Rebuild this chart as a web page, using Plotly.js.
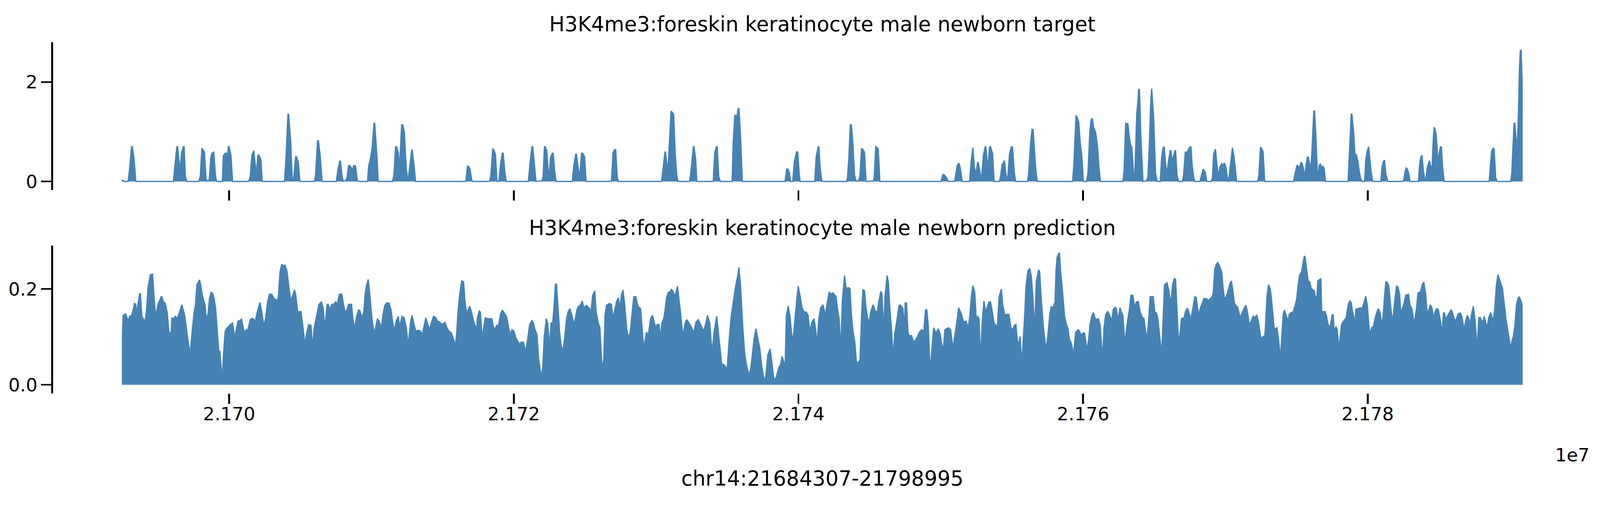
<!DOCTYPE html>
<html><head><meta charset="utf-8">
<script src="https://cdn.plot.ly/plotly-3.0.1.min.js"></script>
<style>html,body{margin:0;padding:0;background:#fff;overflow:hidden;} #chart{position:absolute;left:0;top:0;}</style>
</head><body><div id="chart"></div>
<script>
// ---------------- data ----------------
const regionLabel = 'chr14:21684307-21798995';
const targetTitle = 'H3K4me3:foreskin keratinocyte male newborn target';
const predTitle = 'H3K4me3:foreskin keratinocyte male newborn prediction';
const offsetLabel = '1e7';
const xRangeBp = [21692460, 21790890];
const xTickBp = [21700000, 21720000, 21740000, 21760000, 21780000];
const xTickText = ['2.170', '2.172', '2.174', '2.176', '2.178'];
const targetYTicks = [0, 2];
const targetYTickText = ['0', '2'];
const targetYRange = [-0.172, 2.80];
const predYTicks = [0, 0.2];
const predYTickText = ['0.0', '0.2'];
const predYRange = [-0.0178, 0.2911];

// [position (kb), signal]
const targetTrack = [
[21692.46,0.03],[21692.63,0],[21692.90,0],[21693.00,0.24],[21693.14,0.70],[21693.20,0.70],[21693.33,0.42],[21693.44,0],
[21696.08,0],[21696.19,0.33],[21696.32,0.70],[21696.38,0.70],[21696.48,0.38],[21696.55,0.20],[21696.65,0.57],[21696.78,0.70],[21696.84,0.70],[21696.92,0.10],[21697.03,0],
[21697.86,0],[21697.97,0.10],[21698.08,0.66],[21698.14,0.65],[21698.26,0.59],[21698.38,0.04],[21698.51,0.01],[21698.60,0.04],[21698.71,0.48],[21698.79,0.57],[21698.92,0.59],[21699.05,0.08],[21699.13,0],
[21699.52,0],[21699.59,0.52],[21699.72,0.57],[21699.81,0.57],[21699.87,0.43],[21699.94,0.70],[21700.00,0.70],[21700.13,0.52],[21700.24,0],
[21701.37,0],[21701.48,0.10],[21701.59,0.52],[21701.73,0.62],[21701.84,0.33],[21701.91,0.14],[21702.02,0.53],[21702.10,0.53],[21702.24,0.43],[21702.32,0],
[21703.89,0],[21704.00,0.53],[21704.13,1.35],[21704.18,1.35],[21704.32,0.83],[21704.43,0.06],[21704.48,0.02],[21704.54,0.10],[21704.67,0.50],[21704.73,0.50],[21704.86,0.38],[21704.97,0],
[21705.99,0],[21706.07,0.13],[21706.21,0.82],[21706.27,0.82],[21706.40,0.51],[21706.53,0],
[21707.53,0],[21707.64,0.24],[21707.77,0.41],[21707.82,0.41],[21707.94,0.10],[21708.02,0],
[21708.20,0.02],[21708.28,0.08],[21708.39,0.32],[21708.47,0.32],[21708.58,0.28],[21708.65,0.20],[21708.74,0.32],[21708.88,0.31],[21709.01,0.02],[21709.10,0],
[21709.72,0],[21709.80,0.31],[21709.93,0.47],[21710.04,0.67],[21710.18,1.17],[21710.23,1.17],[21710.33,0.74],[21710.42,0.33],[21710.47,0],
[21711.48,0],[21711.58,0.14],[21711.69,0.70],[21711.77,0.70],[21711.88,0.59],[21711.96,0.25],[21712.04,0.69],[21712.12,1.14],[21712.20,1.14],[21712.31,0.99],[21712.45,0.24],[21712.56,0.01],[21712.66,0.24],[21712.82,0.63],[21712.86,0.63],[21712.99,0.33],[21713.10,0],
[21716.63,0],[21716.74,0.31],[21716.81,0.31],[21716.92,0.25],[21717.06,0.01],[21717.11,0],
[21718.30,0],[21718.39,0.13],[21718.52,0.66],[21718.59,0.64],[21718.71,0.55],[21718.82,0],[21718.95,0],[21719.06,0.33],[21719.19,0.57],[21719.25,0.57],[21719.38,0.17],[21719.47,0],
[21721.02,0],[21721.16,0.42],[21721.27,0.70],[21721.33,0.70],[21721.46,0.29],[21721.56,0],[21721.97,0.01],[21722.06,0.10],[21722.15,0.70],[21722.21,0.70],[21722.32,0.62],[21722.46,0.01],[21722.57,0.48],[21722.71,0.57],[21722.77,0.56],[21722.89,0.15],[21722.98,0],
[21724.11,0],[21724.22,0.33],[21724.35,0.55],[21724.40,0.55],[21724.51,0.29],[21724.62,0.07],[21724.76,0.57],[21724.84,0.57],[21724.97,0.50],[21725.08,0],
[21726.81,0],[21726.86,0.01],[21726.97,0.58],[21727.08,0.64],[21727.16,0.64],[21727.27,0.08],[21727.35,0],
[21730.37,0],[21730.42,0.10],[21730.51,0.33],[21730.62,0.59],[21730.66,0.59],[21730.75,0.35],[21730.83,0.24],[21730.94,0.83],[21731.05,1.42],[21731.13,1.39],[21731.23,1.35],[21731.34,0.58],[21731.45,0.13],[21731.53,0],
[21732.35,0],[21732.42,0.14],[21732.53,0.44],[21732.62,0.70],[21732.66,0.70],[21732.78,0.44],[21732.86,0],
[21734.01,0],[21734.12,0.58],[21734.23,0.70],[21734.29,0.70],[21734.40,0.10],[21734.51,0],
[21735.34,0],[21735.41,0.78],[21735.53,1.33],[21735.61,1.33],[21735.67,1.26],[21735.74,1.44],[21735.82,1.48],[21735.93,0.92],[21736.06,0],
[21739.06,0],[21739.17,0.25],[21739.26,0.25],[21739.37,0.17],[21739.44,0],[21739.60,0],[21739.71,0.40],[21739.87,0.60],[21739.95,0.59],[21740.06,0.13],[21740.12,0],
[21741.14,0],[21741.25,0.51],[21741.39,0.70],[21741.44,0.69],[21741.51,0.33],[21741.56,0.19],[21741.65,0],
[21743.40,0],[21743.45,0.10],[21743.54,0.47],[21743.64,1.14],[21743.72,1.14],[21743.83,0.74],[21743.94,0.13],[21744.05,0.01],[21744.21,0.01],[21744.32,0.10],[21744.43,0.66],[21744.51,0.65],[21744.64,0.59],[21744.75,0],
[21745.26,0.01],[21745.32,0.08],[21745.43,0.70],[21745.51,0.69],[21745.61,0.65],[21745.72,0],
[21750.01,0],[21750.15,0.14],[21750.26,0.13],[21750.42,0.07],[21750.53,0],
[21750.96,0],[21751.01,0.06],[21751.15,0.32],[21751.28,0.37],[21751.39,0.24],[21751.50,0],
[21752.02,0],[21752.13,0.40],[21752.26,0.68],[21752.36,0.29],[21752.47,0.13],[21752.58,0.38],[21752.63,0.38],[21752.74,0.22],[21752.85,0.01],[21752.99,0.52],[21753.12,0.70],[21753.17,0.69],[21753.31,0.24],[21753.42,0.69],[21753.50,0.70],[21753.64,0.56],[21753.75,0],
[21754.11,0],[21754.20,0.10],[21754.31,0.34],[21754.47,0.42],[21754.58,0.14],[21754.69,0.01],[21754.83,0.56],[21754.96,0.70],[21755.04,0.69],[21755.17,0.17],[21755.26,0],
[21756.09,0],[21756.17,0.15],[21756.31,0.78],[21756.41,1.05],[21756.49,1.04],[21756.63,0.42],[21756.71,0.15],[21756.79,0],
[21759.26,0],[21759.35,0.33],[21759.42,0.87],[21759.50,1.32],[21759.56,1.31],[21759.69,1.20],[21759.80,0.78],[21759.91,0.53],[21760.02,0],
[21760.25,0],[21760.34,0.17],[21760.47,0.99],[21760.56,1.24],[21760.64,1.27],[21760.75,1.08],[21760.88,0.99],[21761.01,0.71],[21761.10,0.33],[21761.22,0],
[21762.80,0],[21762.88,0.24],[21762.99,1.17],[21763.15,1.16],[21763.26,0.87],[21763.34,0.73],[21763.42,0.70],[21763.55,0.15],[21763.63,0.10],[21763.77,1.37],[21763.85,1.60],[21763.90,1.85],[21763.96,1.85],[21764.07,0.83],[21764.21,0],
[21764.44,0.01],[21764.55,0.08],[21764.66,0.78],[21764.75,1.60],[21764.82,1.87],[21764.96,1.28],[21765.09,0.17],[21765.20,0],
[21765.42,0],[21765.52,0.49],[21765.61,0.67],[21765.70,0.70],[21765.80,0.35],[21765.89,0.14],[21765.98,0.38],[21766.12,0.62],[21766.17,0.62],[21766.26,0.40],[21766.33,0.49],[21766.45,0.62],[21766.50,0.62],[21766.60,0.13],[21766.71,0],
[21766.98,0],[21767.06,0.13],[21767.18,0.59],[21767.31,0.59],[21767.45,0.67],[21767.53,0.70],[21767.58,0.70],[21767.66,0.33],[21767.77,0.08],[21767.85,0],
[21768.22,0],[21768.33,0.14],[21768.44,0.25],[21768.58,0.19],[21768.69,0],
[21769.01,0],[21769.09,0.08],[21769.17,0.56],[21769.30,0.65],[21769.41,0.33],[21769.50,0.10],[21769.61,0.29],[21769.74,0.36],[21769.82,0.33],[21769.93,0.37],[21770.04,0.29],[21770.17,0.01],[21770.22,0],[21770.36,0.33],[21770.49,0.68],[21770.60,0.51],[21770.71,0.24],[21770.79,0],
[21772.27,0],[21772.35,0.13],[21772.46,0.69],[21772.54,0.67],[21772.65,0.60],[21772.76,0],
[21774.79,0],[21774.90,0.17],[21775.03,0.33],[21775.11,0.31],[21775.20,0.28],[21775.30,0.38],[21775.38,0.37],[21775.46,0.29],[21775.56,0.10],[21775.67,0.33],[21775.76,0.49],[21775.82,0.49],[21775.92,0.33],[21775.99,0.24],[21776.06,0.51],[21776.14,1.01],[21776.21,1.42],[21776.26,1.42],[21776.35,0.96],[21776.48,0.01],[21776.59,0.33],[21776.68,0.35],[21776.78,0.28],[21776.87,0.31],[21776.95,0.24],[21777.03,0],
[21778.62,0],[21778.67,0.33],[21778.76,0.87],[21778.84,1.36],[21778.89,1.35],[21779.02,0.96],[21779.11,0.47],[21779.19,0.55],[21779.30,0.42],[21779.41,0.19],[21779.52,0.04],[21779.62,0],
[21779.78,0],[21779.86,0.44],[21779.95,0.60],[21780.06,0.70],[21780.16,0.42],[21780.24,0.19],[21780.35,0],
[21780.92,0],[21781.00,0.29],[21781.10,0.40],[21781.18,0.43],[21781.27,0.15],[21781.35,0.07],[21781.41,0],
[21782.48,0],[21782.54,0.05],[21782.62,0.19],[21782.70,0.28],[21782.80,0.24],[21782.89,0.15],[21782.97,0],
[21783.56,0],[21783.64,0.33],[21783.73,0.49],[21783.81,0.53],[21783.91,0.22],[21783.99,0.07],[21784.07,0.01],[21784.18,0.29],[21784.27,0.37],[21784.34,0.42],[21784.42,0.31],[21784.51,0.22],[21784.61,0.90],[21784.67,1.08],[21784.72,1.07],[21784.81,0.94],[21784.88,0.65],[21784.94,0.29],[21785.02,0.58],[21785.11,0.70],[21785.18,0.69],[21785.26,0.29],[21785.37,0],
[21788.53,0],[21788.61,0.29],[21788.70,0.60],[21788.80,0.67],[21788.88,0.66],[21788.99,0.08],[21789.10,0],
[21790.05,0],[21790.12,0.17],[21790.23,0.87],[21790.28,1.17],[21790.34,1.17],[21790.42,0.90],[21790.50,0.60],[21790.58,1.30],[21790.66,2.30],[21790.72,2.64],[21790.78,2.64],[21790.86,1.90],[21790.89,1.36]
];

// [position (kb), predicted signal]
const predTrack = [
[21692.46,0.072],[21692.55,0.145],[21692.73,0.148],[21692.90,0.133],[21693.00,0.143],[21693.13,0.144],[21693.22,0.152],[21693.35,0.170],[21693.44,0.168],[21693.51,0.147],[21693.58,0.166],[21693.71,0.190],[21693.76,0.190],[21693.87,0.143],[21693.98,0.137],[21694.08,0.131],[21694.19,0.154],[21694.30,0.203],[21694.46,0.230],[21694.62,0.231],[21694.73,0.180],[21694.84,0.143],[21695.00,0.168],[21695.22,0.184],[21695.27,0.184],[21695.38,0.173],[21695.51,0.171],[21695.65,0.150],[21695.76,0.112],[21695.84,0.108],[21695.90,0.091],[21695.97,0.139],[21696.08,0.138],[21696.22,0.143],[21696.35,0.138],[21696.46,0.147],[21696.68,0.167],[21696.89,0.143],[21697.05,0.105],[21697.22,0.070],[21697.30,0.077],[21697.41,0.115],[21697.54,0.152],[21697.63,0.166],[21697.73,0.209],[21697.92,0.219],[21698.00,0.208],[21698.13,0.185],[21698.30,0.168],[21698.40,0.138],[21698.51,0.147],[21698.62,0.180],[21698.73,0.193],[21698.84,0.191],[21698.94,0.180],[21699.05,0.159],[21699.16,0.115],[21699.27,0.070],[21699.35,0.070],[21699.40,0.049],[21699.51,0.012],[21699.61,0.068],[21699.72,0.112],[21699.86,0.119],[21699.97,0.122],[21700.08,0.126],[21700.24,0.129],[21700.40,0.098],[21700.51,0.117],[21700.62,0.133],[21700.73,0.134],[21700.87,0.137],[21701.02,0.115],[21701.10,0.110],[21701.21,0.115],[21701.32,0.115],[21701.48,0.136],[21701.64,0.139],[21701.75,0.136],[21701.84,0.133],[21701.97,0.152],[21702.16,0.172],[21702.29,0.152],[21702.45,0.122],[21702.56,0.140],[21702.70,0.173],[21702.83,0.189],[21702.99,0.189],[21703.16,0.180],[21703.29,0.178],[21703.37,0.173],[21703.46,0.185],[21703.57,0.236],[21703.70,0.252],[21703.80,0.248],[21703.93,0.250],[21704.07,0.236],[21704.21,0.201],[21704.34,0.175],[21704.45,0.185],[21704.59,0.198],[21704.67,0.189],[21704.83,0.150],[21704.94,0.153],[21705.05,0.153],[21705.15,0.129],[21705.34,0.082],[21705.42,0.105],[21705.59,0.126],[21705.75,0.124],[21705.86,0.075],[21705.96,0.117],[21706.13,0.143],[21706.31,0.168],[21706.48,0.173],[21706.61,0.160],[21706.72,0.117],[21706.88,0.167],[21706.96,0.168],[21707.07,0.157],[21707.21,0.168],[21707.31,0.167],[21707.48,0.173],[21707.58,0.168],[21707.75,0.189],[21707.91,0.189],[21708.02,0.171],
[21708.15,0.150],[21708.28,0.157],[21708.39,0.168],[21708.60,0.168],[21708.69,0.138],[21708.82,0.119],[21708.96,0.143],[21709.10,0.157],[21709.21,0.153],[21709.34,0.139],[21709.47,0.154],[21709.55,0.189],[21709.64,0.206],[21709.77,0.220],[21709.88,0.189],[21710.04,0.136],[21710.15,0.115],[21710.22,0.110],[21710.31,0.124],[21710.42,0.138],[21710.53,0.133],[21710.69,0.119],[21710.83,0.150],[21710.94,0.166],[21711.07,0.171],[21711.23,0.171],[21711.37,0.157],[21711.50,0.129],[21711.61,0.112],[21711.71,0.131],[21711.88,0.143],[21711.98,0.122],[21712.15,0.143],[21712.31,0.139],[21712.45,0.119],[21712.58,0.082],[21712.74,0.130],[21712.85,0.145],[21712.99,0.126],[21713.12,0.112],[21713.28,0.114],[21713.44,0.112],[21713.57,0.105],[21713.71,0.124],[21713.82,0.140],[21713.98,0.124],[21714.09,0.115],[21714.20,0.129],[21714.36,0.143],[21714.52,0.140],[21714.63,0.133],[21714.79,0.131],[21714.95,0.126],[21715.17,0.130],[21715.30,0.119],[21715.44,0.112],[21715.60,0.109],[21715.76,0.096],[21715.89,0.082],[21715.98,0.105],[21716.09,0.157],[21716.20,0.189],[21716.34,0.217],[21716.47,0.215],[21716.57,0.175],[21716.70,0.147],[21716.79,0.157],[21716.90,0.164],[21717.03,0.152],[21717.17,0.133],[21717.31,0.122],[21717.35,0.091],[21717.44,0.140],[21717.57,0.154],[21717.65,0.152],[21717.79,0.094],[21717.90,0.124],[21718.00,0.140],[21718.14,0.138],[21718.36,0.138],[21718.46,0.138],[21718.54,0.124],[21718.65,0.115],[21718.79,0.124],[21718.93,0.124],[21719.06,0.147],[21719.19,0.156],[21719.33,0.150],[21719.49,0.143],[21719.65,0.117],[21719.76,0.105],[21719.87,0.115],[21720.01,0.112],[21720.14,0.098],[21720.30,0.089],[21720.41,0.084],[21720.52,0.089],[21720.68,0.089],[21720.76,0.077],[21720.87,0.075],[21721.00,0.101],[21721.11,0.126],[21721.27,0.134],[21721.38,0.129],[21721.49,0.115],[21721.63,0.105],[21721.74,0.056],[21721.87,0.028],[21721.95,0.019],[21722.03,0.035],[21722.14,0.101],[21722.28,0.138],[21722.38,0.129],[21722.51,0.079],[21722.62,0.129],[21722.73,0.129],[21722.82,0.161],[21722.92,0.210],[21723.00,0.210],[21723.11,0.161],[21723.22,0.110],[21723.32,0.082],[21723.46,0.072],[21723.57,0.096],[21723.70,0.138],[21723.81,0.152],[21723.94,0.159],[21724.08,0.145],[21724.24,0.126],[21724.35,0.143],[21724.44,0.157],[21724.54,0.164],[21724.67,0.166],
[21724.81,0.175],[21724.92,0.161],[21725.11,0.166],[21725.33,0.159],[21725.40,0.147],[21725.54,0.187],[21725.69,0.196],[21725.78,0.152],[21725.94,0.129],[21726.05,0.119],[21726.13,0.072],[21726.23,0.028],[21726.32,0.054],[21726.41,0.145],[21726.51,0.166],[21726.73,0.170],[21726.86,0.168],[21726.97,0.138],[21727.10,0.157],[21727.21,0.173],[21727.35,0.182],[21727.45,0.159],[21727.56,0.187],[21727.67,0.198],[21727.78,0.171],[21727.94,0.115],[21728.07,0.098],[21728.18,0.110],[21728.32,0.152],[21728.43,0.184],[21728.57,0.184],[21728.72,0.164],[21728.91,0.159],[21729.02,0.119],[21729.13,0.075],[21729.21,0.091],[21729.32,0.110],[21729.45,0.103],[21729.61,0.138],[21729.75,0.145],[21729.88,0.129],[21729.99,0.119],[21730.08,0.126],[21730.21,0.126],[21730.29,0.094],[21730.40,0.129],[21730.53,0.138],[21730.62,0.154],[21730.73,0.182],[21730.86,0.193],[21730.96,0.194],[21731.09,0.199],[21731.23,0.192],[21731.34,0.185],[21731.50,0.206],[21731.61,0.178],[21731.72,0.150],[21731.88,0.101],[21732.04,0.129],[21732.15,0.136],[21732.31,0.129],[21732.50,0.119],[21732.64,0.108],[21732.80,0.131],[21732.96,0.136],[21733.12,0.126],[21733.34,0.112],[21733.47,0.126],[21733.61,0.145],[21733.77,0.129],[21733.93,0.065],[21734.07,0.110],[21734.26,0.143],[21734.42,0.096],[21734.61,0.044],[21734.74,0.042],[21734.85,0.040],[21734.98,0.030],[21735.12,0.089],[21735.28,0.145],[21735.45,0.180],[21735.61,0.210],[21735.74,0.229],[21735.82,0.245],[21735.93,0.208],[21736.09,0.119],[21736.23,0.063],[21736.36,0.040],[21736.49,0.023],[21736.63,0.030],[21736.74,0.058],[21736.88,0.096],[21737.01,0.117],[21737.14,0.098],[21737.28,0.077],[21737.44,0.035],[21737.61,0.007],[21737.71,0.019],[21737.85,0.063],[21738.01,0.075],[21738.09,0.058],[21738.25,0.016],[21738.36,0.009],[21738.50,0.023],[21738.63,0.037],[21738.74,0.042],[21738.85,0.059],[21738.96,0.049],[21739.06,0.033],[21739.15,0.145],[21739.28,0.164],[21739.41,0.143],[21739.52,0.105],[21739.60,0.091],[21739.71,0.122],[21739.87,0.175],[21739.98,0.206],[21740.12,0.185],[21740.25,0.161],[21740.41,0.152],[21740.55,0.152],[21740.68,0.145],[21740.79,0.112],[21740.95,0.131],[21741.09,0.138],[21741.20,0.119],
[21741.28,0.094],[21741.35,0.103],[21741.43,0.138],[21741.56,0.161],[21741.73,0.167],[21741.89,0.145],[21742.00,0.168],[21742.16,0.194],[21742.30,0.189],[21742.43,0.192],[21742.54,0.187],[21742.64,0.185],[21742.75,0.157],[21742.86,0.138],[21742.97,0.070],[21743.08,0.175],[21743.24,0.228],[21743.35,0.201],[21743.51,0.203],[21743.62,0.201],[21743.72,0.147],[21743.83,0.112],[21743.96,0.089],[21744.07,0.049],[21744.16,0.044],[21744.24,0.049],[21744.32,0.049],[21744.43,0.143],[21744.53,0.199],[21744.64,0.196],[21744.75,0.161],[21744.86,0.140],[21744.97,0.129],[21745.07,0.152],[21745.24,0.167],[21745.40,0.154],[21745.54,0.152],[21745.65,0.175],[21745.78,0.194],[21745.86,0.192],[21745.99,0.112],[21746.08,0.185],[21746.23,0.228],[21746.32,0.213],[21746.42,0.161],[21746.55,0.112],[21746.64,0.058],[21746.77,0.108],[21746.91,0.133],[21747.07,0.166],[21747.18,0.166],[21747.34,0.159],[21747.45,0.117],[21747.50,0.171],[21747.59,0.171],[21747.70,0.108],[21747.83,0.101],[21747.94,0.103],[21748.10,0.089],[21748.24,0.094],[21748.37,0.101],[21748.50,0.110],[21748.67,0.115],[21748.80,0.110],[21748.93,0.157],[21749.02,0.156],[21749.12,0.124],[21749.25,0.028],[21749.39,0.082],[21749.50,0.119],[21749.66,0.108],[21749.83,0.117],[21749.97,0.105],[21750.10,0.077],[21750.20,0.082],[21750.29,0.115],[21750.40,0.117],[21750.55,0.119],[21750.69,0.115],[21750.85,0.077],[21751.07,0.119],[21751.26,0.161],[21751.45,0.147],[21751.61,0.131],[21751.77,0.133],[21751.93,0.119],[21752.04,0.143],[21752.15,0.185],[21752.26,0.207],[21752.39,0.192],[21752.49,0.138],[21752.60,0.143],[21752.69,0.138],[21752.80,0.049],[21752.90,0.126],[21753.03,0.175],[21753.17,0.150],[21753.28,0.164],[21753.39,0.173],[21753.50,0.173],[21753.61,0.154],[21753.75,0.129],[21753.88,0.124],[21753.98,0.122],[21754.09,0.182],[21754.25,0.200],[21754.36,0.166],[21754.50,0.145],[21754.63,0.147],[21754.79,0.147],[21754.93,0.119],[21755.06,0.115],[21755.17,0.124],[21755.28,0.126],[21755.39,0.089],[21755.47,0.086],[21755.58,0.101],[21755.69,0.040],[21755.77,0.082],[21755.91,0.154],[21755.98,0.203],[21756.12,0.238],[21756.25,0.243],[21756.36,0.227],[21756.47,0.185],[21756.60,0.112],[21756.71,0.217],[21756.88,0.240],[21756.95,0.236],[21757.06,0.180],[21757.20,0.124],[21757.33,0.089],[21757.42,0.077],[21757.53,0.105],[21757.66,0.147],[21757.76,0.164],[21757.87,0.159],[21758.03,0.173],[21758.09,0.236],[21758.17,0.266],
[21758.27,0.273],[21758.34,0.276],[21758.42,0.236],[21758.50,0.213],[21758.61,0.175],[21758.70,0.143],[21758.83,0.126],[21758.94,0.117],[21759.04,0.094],[21759.15,0.089],[21759.26,0.075],[21759.31,0.058],[21759.39,0.082],[21759.48,0.110],[21759.64,0.115],[21759.75,0.112],[21759.85,0.103],[21759.99,0.108],[21760.10,0.108],[21760.18,0.091],[21760.29,0.072],[21760.39,0.096],[21760.50,0.129],[21760.61,0.143],[21760.72,0.151],[21760.86,0.138],[21760.99,0.136],[21761.07,0.138],[21761.20,0.124],[21761.31,0.077],[21761.37,0.054],[21761.47,0.119],[21761.58,0.146],[21761.72,0.153],[21761.85,0.147],[21762.01,0.133],[21762.12,0.157],[21762.26,0.162],[21762.34,0.159],[21762.45,0.134],[21762.59,0.161],[21762.72,0.150],[21762.80,0.145],[21762.93,0.084],[21763.04,0.115],[21763.15,0.138],[21763.26,0.159],[21763.36,0.187],[21763.49,0.187],[21763.63,0.162],[21763.74,0.173],[21763.88,0.174],[21764.01,0.152],[21764.17,0.140],[21764.28,0.138],[21764.39,0.112],[21764.50,0.098],[21764.61,0.138],[21764.71,0.184],[21764.93,0.184],[21765.04,0.152],[21765.15,0.150],[21765.25,0.139],[21765.36,0.108],[21765.47,0.075],[21765.52,0.063],[21765.63,0.143],[21765.72,0.209],[21765.90,0.213],[21766.01,0.199],[21766.17,0.168],[21766.28,0.208],[21766.41,0.222],[21766.50,0.220],[21766.60,0.154],[21766.71,0.086],[21766.82,0.110],[21766.91,0.138],[21767.09,0.140],[21767.20,0.154],[21767.34,0.160],[21767.47,0.147],[21767.58,0.139],[21767.68,0.154],[21767.85,0.184],[21767.95,0.182],[21768.06,0.157],[21768.12,0.143],[21768.20,0.157],[21768.33,0.168],[21768.49,0.180],[21768.66,0.180],[21768.82,0.176],[21768.93,0.180],[21769.03,0.182],[21769.14,0.190],[21769.25,0.241],[21769.36,0.252],[21769.47,0.255],[21769.63,0.245],[21769.74,0.236],[21769.84,0.201],[21769.93,0.182],[21770.04,0.182],[21770.17,0.194],[21770.30,0.210],[21770.41,0.217],[21770.51,0.201],[21770.62,0.171],[21770.73,0.166],[21770.87,0.161],[21771.03,0.140],[21771.19,0.152],[21771.30,0.159],[21771.44,0.166],[21771.55,0.152],[21771.68,0.124],[21771.81,0.133],[21771.95,0.143],[21772.06,0.140],[21772.20,0.146],[21772.33,0.129],[21772.46,0.103],[21772.54,0.096],[21772.65,0.101],[21772.74,0.096],[21772.81,0.119],[21772.92,0.185],[21773.03,0.209],[21773.14,0.201],[21773.21,0.187],[21773.32,0.152],[21773.43,0.117],[21773.52,0.117],[21773.62,0.119],[21773.73,0.096],[21773.86,0.054],[21773.95,0.096],[21774.06,0.147],[21774.14,0.156],[21774.27,0.145],[21774.38,0.133],[21774.49,0.147],[21774.62,0.151],[21774.76,0.152],[21774.90,0.166],[21775.01,0.180],
[21775.11,0.208],[21775.20,0.228],[21775.35,0.236],[21775.54,0.269],[21775.60,0.266],[21775.70,0.241],[21775.81,0.217],[21775.92,0.215],[21776.03,0.201],[21776.24,0.196],[21776.32,0.185],[21776.41,0.173],[21776.49,0.217],[21776.71,0.222],[21776.78,0.133],[21776.86,0.153],[21777.00,0.153],[21777.11,0.143],[21777.18,0.129],[21777.27,0.122],[21777.38,0.124],[21777.49,0.145],[21777.57,0.147],[21777.66,0.105],[21777.76,0.122],[21777.86,0.115],[21777.97,0.075],[21778.05,0.096],[21778.16,0.126],[21778.30,0.133],[21778.48,0.140],[21778.57,0.157],[21778.65,0.170],[21778.76,0.175],[21778.84,0.171],[21778.94,0.152],[21779.02,0.143],[21779.11,0.119],[21779.16,0.158],[21779.32,0.159],[21779.48,0.161],[21779.59,0.159],[21779.70,0.168],[21779.86,0.185],[21779.97,0.166],[21780.08,0.124],[21780.16,0.103],[21780.27,0.119],[21780.40,0.122],[21780.51,0.138],[21780.62,0.150],[21780.73,0.159],[21780.86,0.152],[21781.00,0.122],[21781.10,0.152],[21781.18,0.185],[21781.27,0.215],[21781.37,0.214],[21781.48,0.206],[21781.59,0.171],[21781.70,0.138],[21781.81,0.147],[21781.91,0.180],[21782.02,0.206],[21782.13,0.204],[21782.24,0.189],[21782.32,0.147],[21782.40,0.157],[21782.56,0.171],[21782.67,0.187],[21782.86,0.189],[21782.97,0.166],[21783.10,0.159],[21783.21,0.138],[21783.30,0.133],[21783.43,0.161],[21783.53,0.192],[21783.70,0.194],[21783.84,0.210],[21783.94,0.214],[21784.07,0.189],[21784.18,0.147],[21784.29,0.157],[21784.40,0.167],[21784.51,0.161],[21784.64,0.138],[21784.72,0.152],[21784.83,0.159],[21784.96,0.157],[21785.13,0.129],[21785.21,0.105],[21785.32,0.150],[21785.39,0.150],[21785.50,0.136],[21785.59,0.143],[21785.75,0.152],[21785.86,0.157],[21785.96,0.150],[21786.07,0.138],[21786.18,0.133],[21786.34,0.148],[21786.50,0.150],[21786.61,0.143],[21786.77,0.115],[21786.88,0.133],[21786.99,0.145],[21787.10,0.138],[21787.18,0.126],[21787.29,0.147],[21787.42,0.164],[21787.53,0.138],[21787.69,0.075],[21787.80,0.140],[21787.91,0.140],[21788.02,0.133],[21788.09,0.129],[21788.18,0.143],[21788.29,0.131],[21788.39,0.119],[21788.50,0.140],[21788.63,0.151],[21788.72,0.143],[21788.80,0.129],[21788.93,0.161],[21789.04,0.208],[21789.15,0.230],[21789.26,0.220],[21789.39,0.210],[21789.47,0.201],[21789.58,0.171],[21789.71,0.138],[21789.85,0.112],[21789.99,0.086],[21790.05,0.069],[21790.12,0.091],[21790.23,0.101],[21790.34,0.124],[21790.45,0.166],[21790.55,0.180],[21790.64,0.184],[21790.77,0.175],[21790.89,0.160]
];

// ---------------- drawing ----------------
// Layout positions are expressed as fractions of a 5842 x 1307 canvas and
// mapped onto whatever viewport the page actually gets.
const W0 = 5842, H0 = 1307;
const VW = window.innerWidth || W0;
const VH = window.innerHeight || H0;
const S = VW / W0;
const FONT = '"DejaVu Sans", sans-serif';
const BLUE = '#4682b4';
const TICK_FONT = 66.7 * S, TITLE_FONT = 75 * S;
const LW = 6.5 * S, TL = 37 * S;
const py = v => 1 - v / H0;
const px = v => v / W0;
const xDom = [px(444.9), px(5559.9)];
const xMid = (xDom[0] + xDom[1]) / 2;

const chartDiv = document.getElementById('chart');
chartDiv.style.width = VW + 'px';
chartDiv.style.height = VH + 'px';

function areaTrace(track, xa, ya) {
  return {
    type: 'scatter', mode: 'lines',
    x: track.map(p => Math.round(p[0] * 1000)),
    y: track.map(p => p[1]),
    xaxis: xa, yaxis: ya,
    fill: 'tozeroy', fillcolor: BLUE,
    line: { color: BLUE, width: 4.5 * S, shape: 'linear' },
    hoverinfo: 'skip', showlegend: false
  };
}

const xCommon = {
  domain: xDom, range: xRangeBp, showline: false, showgrid: false, zeroline: false,
  ticks: 'outside', ticklen: TL, tickwidth: LW, tickcolor: '#000',
  tickmode: 'array', tickvals: xTickBp, ticktext: xTickText,
  ticklabelstandoff: Math.round(-20 * S),
  tickfont: { family: FONT, size: TICK_FONT, color: '#000' }, fixedrange: true
};
const yCommon = {
  anchor: 'free', position: px(190), side: 'left',
  showline: true, linewidth: LW, linecolor: '#000',
  showgrid: false, zeroline: false,
  ticks: 'outside', ticklen: TL, tickwidth: LW, tickcolor: '#000',
  tickmode: 'array',
  tickfont: { family: FONT, size: TICK_FONT, color: '#000' }, fixedrange: true
};

const layout = {
  width: VW, height: VH,
  margin: { l: 0, r: 0, t: 0, b: 0, pad: 0 },
  paper_bgcolor: '#ffffff', plot_bgcolor: 'rgba(0,0,0,0)',
  font: { family: FONT, color: '#000', size: TICK_FONT },
  showlegend: false,
  xaxis: Object.assign({}, xCommon, { anchor: 'y', showticklabels: false }),
  yaxis: Object.assign({}, yCommon, { domain: [py(486), py(108.4)], range: targetYRange, tickvals: targetYTicks, ticktext: targetYTickText }),
  xaxis2: Object.assign({}, xCommon, { anchor: 'y2', showticklabels: true }),
  yaxis2: Object.assign({}, yCommon, { domain: [py(1006), py(627.6)], range: predYRange, tickvals: predYTicks, ticktext: predYTickText }),
  annotations: [
    { text: targetTitle, xref: 'paper', yref: 'paper', x: xMid, y: py(62), xanchor: 'center', yanchor: 'middle', showarrow: false, font: { family: FONT, size: TITLE_FONT, color: '#000' } },
    { text: predTitle, xref: 'paper', yref: 'paper', x: xMid, y: py(582), xanchor: 'center', yanchor: 'middle', showarrow: false, font: { family: FONT, size: TITLE_FONT, color: '#000' } },
    { text: regionLabel, xref: 'paper', yref: 'paper', x: xMid, y: py(1223), xanchor: 'center', yanchor: 'middle', showarrow: false, font: { family: FONT, size: TITLE_FONT, color: '#000' } },
    { text: offsetLabel, xref: 'paper', yref: 'paper', x: px(5807), y: py(1164), xanchor: 'right', yanchor: 'middle', showarrow: false, font: { family: FONT, size: TICK_FONT, color: '#000' } }
  ]
};

Plotly.newPlot(chartDiv, [
  areaTrace(targetTrack, 'x', 'y'),
  areaTrace(predTrack, 'x2', 'y2')
], layout, { displayModeBar: false, staticPlot: true });
</script>
</body></html>
